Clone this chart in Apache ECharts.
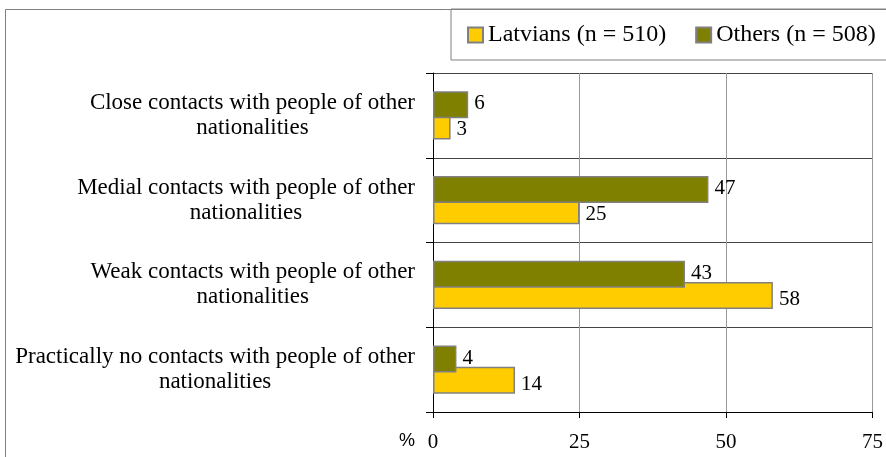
<!DOCTYPE html>
<html>
<head>
<meta charset="utf-8">
<script src="https://cdn.jsdelivr.net/npm/echarts@6/dist/echarts.min.js"></script>
<style>
  html, body { margin: 0; padding: 0; background: #fff; }
  #chart { width: 886px; height: 457px; }
</style>
</head>
<body>
<div id="chart"></div>
<script>
// Contact categories, listed top to bottom
const categories = [
  'Close contacts with people of other\nnationalities',
  'Medial contacts with people of other\nnationalities',
  'Weak contacts with people of other\nnationalities',
  'Practically no contacts with people of other\nnationalities'
];
const seriesNames = ['Latvians (n = 510)', 'Others (n = 508)'];
const latvians = [3, 25, 58, 14];
const others = [6, 47, 43, 4];
const xTicks = [0, 25, 50, 75];

const SERIF = '"Liberation Serif", "Times New Roman", serif';

function valueLabel(dy) {
  return {
    show: true, position: 'right', distance: 6, offset: [0, dy],
    fontFamily: SERIF, fontSize: 21, color: '#000'
  };
}

const chart = echarts.init(document.getElementById('chart'));

chart.setOption({
  animation: false,
  backgroundColor: '#fff',
  graphic: [{
    type: 'rect',
    shape: { x: 5.5, y: 9.5, width: 900, height: 470 },
    style: { fill: 'none', stroke: '#808080', lineWidth: 1 },
    silent: true,
    z: -10
  }],
  legend: {
    data: seriesNames,
    orient: 'horizontal',
    icon: 'rect',
    left: 451,
    top: 9,
    width: 440,
    padding: [14, 30, 13, 16],
    itemWidth: 15,
    itemHeight: 15,
    itemGap: 29,
    borderColor: '#808080',
    borderWidth: 1,
    textStyle: { fontFamily: SERIF, fontSize: 24, color: '#000' }
  },
  grid: { left: 433, right: 8, top: 73, bottom: 45, containLabel: false },
  xAxis: {
    type: 'value',
    min: xTicks[0],
    max: xTicks[xTicks.length - 1],
    interval: xTicks[1] - xTicks[0],
    name: '%',
    nameLocation: 'start',
    nameGap: 18,
    nameTextStyle: {
      fontFamily: '"Liberation Sans", Arial, sans-serif',
      fontSize: 18,
      color: '#000',
      verticalAlign: 'top',
      padding: [20, 0, 0, 0]
    },
    axisLine: { show: true, lineStyle: { color: '#000', width: 1 } },
    axisTick: { show: true, length: 6, lineStyle: { color: '#000' } },
    axisLabel: { margin: 20, fontFamily: SERIF, fontSize: 21, color: '#000' },
    splitLine: { show: true, lineStyle: { color: '#999', width: 1 } }
  },
  yAxis: {
    type: 'category',
    data: categories,
    inverse: true,
    axisLine: { show: true, lineStyle: { color: '#000', width: 1 } },
    axisTick: { show: true, length: 7, lineStyle: { color: '#000' } },
    splitLine: { show: true, lineStyle: { color: '#444', width: 1 } },
    axisLabel: {
      margin: 18,
      align: 'right',
      formatter: function (v) {
        return v.split('\n').map(function (s) { return '{c|' + s + '}'; }).join('\n');
      },
      rich: {
        c: { align: 'center', fontFamily: SERIF, fontSize: 23, lineHeight: 25, color: '#000' }
      }
    }
  },
  series: [
    {
      name: seriesNames[1],
      type: 'bar',
      data: others,
      barWidth: 27,
      barGap: '-22%',
      z: 3,
      itemStyle: { color: '#808000', borderColor: '#808080', borderWidth: 1.5 },
      label: valueLabel(-1)
    },
    {
      name: seriesNames[0],
      type: 'bar',
      data: latvians,
      barWidth: 27,
      barGap: '-22%',
      z: 2,
      itemStyle: { color: '#FFCC00', borderColor: '#808080', borderWidth: 1.5 },
      label: valueLabel(4)
    }
  ]
});
</script>
</body>
</html>
